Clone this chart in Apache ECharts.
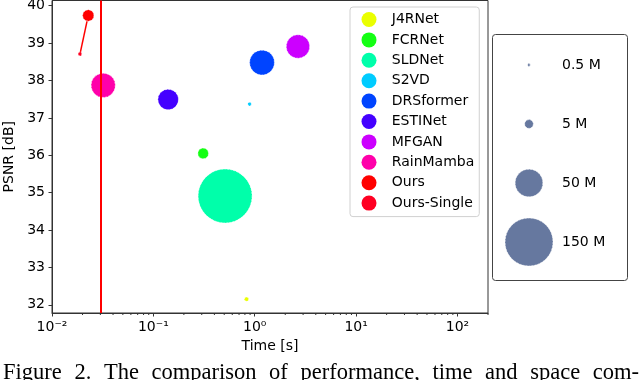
<!DOCTYPE html>
<html>
<head>
<meta charset="utf-8">
<script src="https://cdn.jsdelivr.net/npm/echarts@6/dist/echarts.min.js"></script>
<style>
  html, body { margin: 0; padding: 0; background: #fff; }
  #chart { width: 640px; height: 380px; }
</style>
</head>
<body>
<div id="chart"></div>
<script>
// data
const methods = ['J4RNet', 'FCRNet', 'SLDNet', 'S2VD', 'DRSformer', 'ESTINet', 'MFGAN', 'RainMamba', 'Ours', 'Ours-Single']
const timeSec = [0.83, 0.31, 0.51, 0.89, 1.18, 0.14, 2.67, 0.032, 0.0228, 0.0189]
const psnr = [32.15, 36.05, 34.91, 37.37, 38.48, 37.49, 38.91, 37.87, 39.74, 38.71]
const paramsM = [1.2, 7.4, 190, 0.9, 40, 27.5, 35.6, 38, 8.5, 1.0]
const colors = ['#eaff00', '#14ff14', '#00ffaa', '#00ccff', '#0044ff', '#4400ff', '#cc00ff', '#ff00aa', '#ff0000', '#ff0022']
const realTime = 1 / 30
const sizeLabels = ['0.5 M', '5 M', '50 M', '150 M']
const sizeValues = [0.5, 5, 50, 150]
const yTicks = [32, 33, 34, 35, 36, 37, 38, 39, 40]
const decades = [0.01, 0.1, 1, 10, 100]
const minorMult = [2, 3, 4, 5, 6, 7, 8, 9]
const captionWords = ['Figure', '2.', 'The', 'comparison', 'of', 'performance,', 'time', 'and', 'space', 'com-']

const FONT = 'DejaVu Sans'
const FS = 14
const yMin = 31.78, yMax = 40.14
const bubble = p => 48 * Math.sqrt(p / 150)   // diameter in px

const supMap = { '-': '\u207b', '0': '\u2070', '1': '\u00b9', '2': '\u00b2', '3': '\u00b3' }
const powLabel = v => {
  const l = Math.log10(v), e = Math.round(l)
  if (Math.abs(l - e) > 1e-6) return ''
  return '10' + String(e).split('').map(c => supMap[c]).join('')
}

let minorTicks = []
decades.forEach(d => minorMult.forEach(m => { if (d * m <= 200) minorTicks.push([d * m, yMin]) }))

const ring = { borderColor: 'rgba(255,255,255,0.6)', borderWidth: 1, borderType: [2, 1] }

let series = methods.map((name, i) => ({
  name: name,
  type: 'scatter',
  xAxisIndex: 0, yAxisIndex: 0,
  data: [[timeSec[i], psnr[i], paramsM[i]]],
  symbolSize: v => bubble(v[2]),
  itemStyle: Object.assign({ color: colors[i], opacity: 1 }, ring),
  z: 3
}))

// line joining the two variants + 30 fps marker
series.push({
  name: 'link',
  type: 'line',
  data: [[timeSec[8], psnr[8]], [timeSec[9], psnr[9]]],
  symbol: 'none',
  lineStyle: { color: '#ff0000', width: 1.5 },
  z: 2,
  markLine: {
    silent: true,
    symbol: ['none', 'none'],
    label: { show: false },
    lineStyle: { color: '#ff0000', width: 2, type: 'solid' },
    data: [{ xAxis: realTime }],
    z: 6
  }
})

// minor log ticks
series.push({
  name: 'minor',
  type: 'custom',
  silent: true,
  clip: false,
  data: minorTicks,
  encode: { x: 0, y: 1 },
  renderItem: (params, api) => {
    const p = api.coord([api.value(0), api.value(1)])
    return { type: 'line', shape: { x1: p[0], y1: p[1], x2: p[0], y2: p[1] + 2 }, style: { stroke: '#333', lineWidth: 1 } }
  },
  z: 5
})

// size legend
series.push({
  name: 'size',
  type: 'scatter',
  xAxisIndex: 1, yAxisIndex: 1,
  data: sizeValues.map((v, i) => [0, i, v]),
  symbolSize: v => bubble(v[2]),
  itemStyle: Object.assign({ color: '#66789f', opacity: 1 }, ring)
})

// justified caption line
const capFont = '22.5px "Liberation Serif"'
const ctx = document.createElement('canvas').getContext('2d')
ctx.font = capFont
const wordW = captionWords.map(w => ctx.measureText(w).width)
const capLeft = 3, capRight = 639
const gap = (capRight - capLeft - wordW.reduce((a, b) => a + b, 0)) / (captionWords.length - 1)
let cx = capLeft
const captionText = captionWords.map((w, i) => {
  const el = { type: 'text', left: cx, top: 361.5, style: { text: w, font: capFont, fill: '#000' } }
  cx += wordW[i] + gap
  return el
})

const chart = echarts.init(document.getElementById('chart'))
chart.setOption({
  animation: false,
  textStyle: { fontFamily: FONT },
  grid: [
    { left: 52, right: 152, top: 0.5, bottom: 67, show: true, borderColor: '#333', borderWidth: 1, containLabel: false, outerBoundsMode: 'none' },
    { left: 509, width: 40, top: 35.5, height: 236, containLabel: false, outerBoundsMode: 'none' }
  ],
  legend: {
    data: methods,
    orient: 'vertical',
    left: 350, top: 7,
    padding: [5, 5, 6, 11.5],
    icon: 'circle',
    itemWidth: 35.5, itemHeight: 15, itemGap: 5.4,
    itemStyle: { borderWidth: 0 },
    backgroundColor: 'rgba(255,255,255,0.8)',
    borderColor: '#d0d0d0', borderWidth: 1, borderRadius: 3,
    textStyle: { fontFamily: FONT, fontSize: FS, color: '#000' }
  },
  xAxis: [
    {
      type: 'log', logBase: 10, min: 0.01, max: 200, gridIndex: 0,
      name: 'Time [s]', nameLocation: 'middle', nameGap: 19,
      nameTextStyle: { fontFamily: FONT, fontSize: FS, color: '#000' },
      axisLine: { lineStyle: { color: '#333', width: 1 } },
      axisTick: { length: 3.5, lineStyle: { color: '#333' } },
      axisLabel: { formatter: powLabel, fontFamily: FONT, fontSize: FS, color: '#000', margin: 7, showMaxLabel: false },
      splitLine: { show: false }
    },
    { type: 'category', data: ['s'], gridIndex: 1, show: false }
  ],
  yAxis: [
    {
      type: 'value', min: yMin, max: yMax, gridIndex: 0,
      name: 'PSNR [dB]', nameLocation: 'middle', nameGap: 24,
      nameTextStyle: { fontFamily: FONT, fontSize: FS, color: '#000' },
      axisLine: { show: true, lineStyle: { color: '#333', width: 1 } },
      axisTick: { show: true, length: 3.5, lineStyle: { color: '#333' }, customValues: yTicks },
      axisLabel: { fontFamily: FONT, fontSize: FS, color: '#000', margin: 7, customValues: yTicks },
      splitLine: { show: false }
    },
    {
      type: 'category', data: sizeLabels, gridIndex: 1, inverse: true, position: 'right',
      axisLine: { show: false }, axisTick: { show: false },
      axisLabel: { fontFamily: FONT, fontSize: FS, color: '#000', margin: 13 }
    }
  ],
  graphic: [
    {
      type: 'rect', left: 492, top: 34, z: 0,
      shape: { width: 135, height: 246, r: 3 },
      style: { fill: '#fff', stroke: '#444', lineWidth: 1 }
    }
  ].concat(captionText),
  series: series
})
</script>
</body>
</html>
